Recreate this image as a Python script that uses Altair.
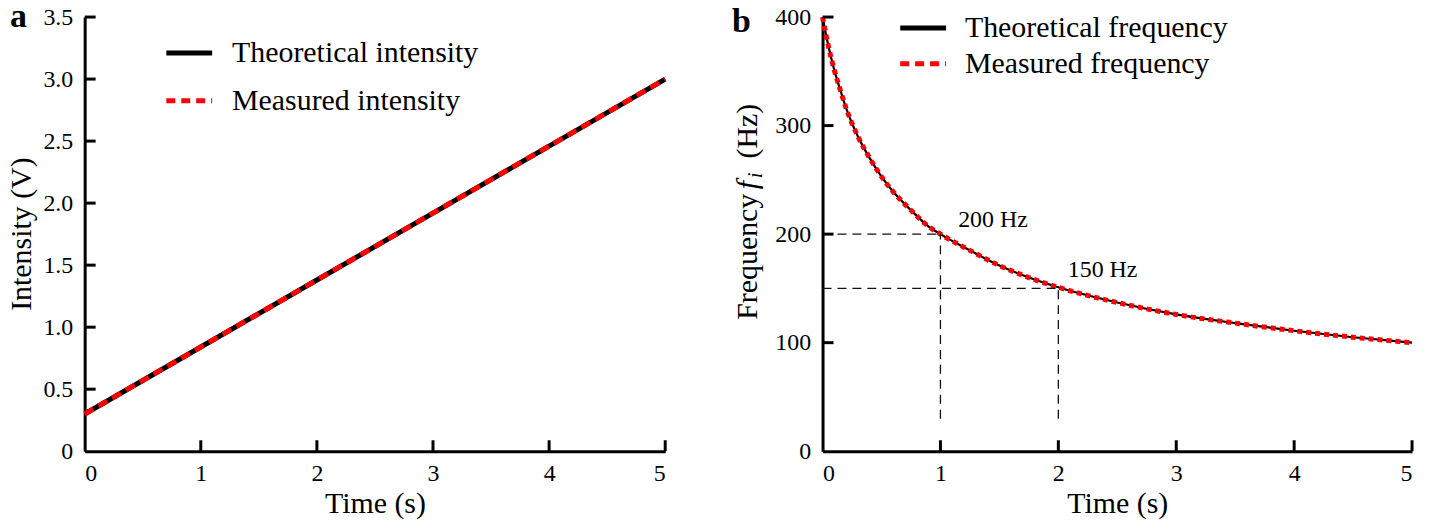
import altair as alt
import pandas as pd

# ---------------- data ----------------
time_a = [0, 1, 2, 3, 4, 5]
intensity_theory = [0.30, 0.84, 1.38, 1.92, 2.46, 3.00]
intensity_measured = [0.30, 0.84, 1.38, 1.92, 2.46, 3.00]

time_b = [0, 0.05, 0.1, 0.15, 0.2, 0.3, 0.4, 0.5, 0.6, 0.75, 0.9, 1.0,
          1.25, 1.5, 1.75, 2.0, 2.5, 3.0, 3.5, 4.0, 4.5, 5.0]
freq_theory = [400, 373, 351, 333, 316, 290, 270, 253, 239, 222, 207, 200,
               185, 171, 160, 151, 137, 126, 118, 111, 105, 100]
freq_measured = [400, 373, 351, 333, 316, 290, 270, 253, 239, 222, 207, 200,
                 185, 171, 160, 151, 137, 126, 118, 111, 105, 100]

x_ticks = [1, 2, 3, 4, 5]
y_ticks_a = [0.5, 1.0, 1.5, 2.0, 2.5, 3.0, 3.5]
y_ticks_b = [100, 200, 300, 400]

guide_marks_t = [1, 2]
guide_marks_f = [200, 150]
guide_labels = ["200 Hz", "150 Hz"]
guide_label_t = [1.15, 2.08]
guide_label_f = [213, 167]

legend_a = ["Theoretical intensity", "Measured intensity"]
legend_b = ["Theoretical frequency", "Measured frequency"]

FONT = "Liberation Serif"
WA, HA = 583, 436
WB, HB = 592, 436

one = pd.DataFrame({"k": [0]})


def label(txt, x, y, size=30, align="left", baseline="middle", **kw):
    return alt.Chart(one).mark_text(font=FONT, fontSize=size, align=align, baseline=baseline,
                                    color="black", **kw).encode(
        x=alt.value(x), y=alt.value(y), text=alt.value(txt))


def seg(x1, x2, y, color, dash=None, width=5, opacity=1):
    kw = {"strokeDash": dash} if dash else {}
    return alt.Chart(one).mark_rule(color=color, strokeWidth=width, opacity=opacity, **kw).encode(
        x=alt.value(x1), x2=alt.value(x2), y=alt.value(y))


# ---------------- panel a ----------------
da = pd.DataFrame({"t": time_a, "theo": intensity_theory, "meas": intensity_measured})
xa_scale = alt.Scale(domain=[0, 5], nice=False)
ya_scale = alt.Scale(domain=[0, 3.5], nice=False)

theo_a = alt.Chart(da).mark_line(color="black", strokeWidth=5).encode(
    x=alt.X("t:Q", scale=xa_scale,
            axis=alt.Axis(values=[0, 1, 2, 3, 4, 5], title="Time (s)", format="d")),
    y=alt.Y("theo:Q", scale=ya_scale,
            axis=alt.Axis(values=[0] + y_ticks_a, title=None,
                          labelExpr="datum.value == 0 ? '0' : format(datum.value, '.1f')")),
)
meas_a = alt.Chart(da).mark_line(color="#ff0000", strokeWidth=5, strokeDash=[10, 6]).encode(
    x=alt.X("t:Q", scale=xa_scale), y=alt.Y("meas:Q", scale=ya_scale))
xt_a = alt.Chart(pd.DataFrame({"t": x_ticks})).mark_rule(color="black", strokeWidth=3).encode(
    x=alt.X("t:Q", scale=xa_scale), y=alt.value(HA), y2=alt.value(HA - 11))
yt_a = alt.Chart(pd.DataFrame({"v": y_ticks_a})).mark_rule(color="black", strokeWidth=3).encode(
    y=alt.Y("v:Q", scale=ya_scale), x=alt.value(0), x2=alt.value(11))

title_a = alt.Chart(one).mark_text(font=FONT, fontSize=30, angle=270, align="center",
                                   baseline="alphabetic", color="black").encode(
    x=alt.value(-54), y=alt.value(HA / 2), text=alt.value("Intensity (V)"))

panel_a = alt.layer(
    theo_a, meas_a, xt_a, yt_a,
    seg(82, 128, 36, "black"),
    seg(82, 128, 84, "#ff0000", dash=[9, 6]),
    label(legend_a[0], 148, 36),
    label(legend_a[1], 148, 84),
    title_a,
    label("a", -75, 10, size=34, baseline="alphabetic", fontWeight="bold"),
    seg(-90, WA + 8, -24, "white", width=1, opacity=0),
).properties(width=WA, height=HA)

# ---------------- panel b ----------------
db = pd.DataFrame({"t": time_b, "theo": freq_theory, "meas": freq_measured})
xb_scale = alt.Scale(domain=[0, 5], nice=False)
yb_scale = alt.Scale(domain=[0, 400], nice=False)

theo_b = alt.Chart(db).mark_line(color="black", strokeWidth=2.2, interpolate="monotone").encode(
    x=alt.X("t:Q", scale=xb_scale,
            axis=alt.Axis(values=[0, 1, 2, 3, 4, 5], title="Time (s)", format="d")),
    y=alt.Y("theo:Q", scale=yb_scale,
            axis=alt.Axis(values=[0] + y_ticks_b, title=None, format="d")),
)
meas_b = alt.Chart(db).mark_line(color="#ff0000", strokeWidth=5, strokeDash=[5, 4],
                                 interpolate="monotone").encode(
    x=alt.X("t:Q", scale=xb_scale), y=alt.Y("meas:Q", scale=yb_scale))

gh = pd.DataFrame({"t0": [0, 0], "t1": guide_marks_t, "f": guide_marks_f})
guide_h = alt.Chart(gh).mark_rule(color="#111111", strokeWidth=1.3, strokeDash=[9, 6]).encode(
    x=alt.X("t0:Q", scale=xb_scale), x2="t1:Q", y=alt.Y("f:Q", scale=yb_scale))
gv = pd.DataFrame({"t": guide_marks_t, "f0": [30, 30], "f1": guide_marks_f})
guide_v = alt.Chart(gv).mark_rule(color="#111111", strokeWidth=1.3, strokeDash=[9, 6]).encode(
    x=alt.X("t:Q", scale=xb_scale), y=alt.Y("f0:Q", scale=yb_scale), y2="f1:Q")
gl = pd.DataFrame({"t": guide_label_t, "f": guide_label_f, "label": guide_labels})
guide_lbl = alt.Chart(gl).mark_text(font=FONT, fontSize=24, align="left", baseline="middle",
                                    color="black").encode(
    x=alt.X("t:Q", scale=xb_scale), y=alt.Y("f:Q", scale=yb_scale), text="label:N")

xt_b = alt.Chart(pd.DataFrame({"t": x_ticks})).mark_rule(color="black", strokeWidth=3).encode(
    x=alt.X("t:Q", scale=xb_scale), y=alt.value(HB), y2=alt.value(HB - 11))
yt_b = alt.Chart(pd.DataFrame({"v": y_ticks_b})).mark_rule(color="black", strokeWidth=3).encode(
    y=alt.Y("v:Q", scale=yb_scale), x=alt.value(0), x2=alt.value(11))

yt_pieces = []
for txt, ypos, style, size, dx in [("Frequency", 304, "normal", 30, 0),
                                   ("f", 173, "italic", 30, 0),
                                   ("i", 162, "italic", 21, 5),
                                   ("(Hz)", 142, "normal", 30, 0)]:
    yt_pieces.append(alt.Chart(one).mark_text(font=FONT, fontSize=size, fontStyle=style, angle=270,
                                              align="left", baseline="alphabetic",
                                              color="black").encode(
        x=alt.value(-66 + dx), y=alt.value(ypos), text=alt.value(txt)))

panel_b = alt.layer(
    theo_b, meas_b, guide_h, guide_v, guide_lbl, xt_b, yt_b,
    seg(78, 124, 11, "black"),
    seg(78, 124, 47, "#ff0000", dash=[9, 6]),
    label(legend_b[0], 143, 11),
    label(legend_b[1], 143, 47),
    *yt_pieces,
    label("b", -91, 15, size=34, baseline="alphabetic", fontWeight="bold"),
    seg(-95, WB + 6, -24, "white", width=1, opacity=0),
).properties(width=WB, height=HB)

chart = alt.hconcat(panel_a, panel_b, spacing=53).properties(
    padding={"left": -13, "top": -16, "right": 0, "bottom": 0}
).configure_view(stroke=None).configure_axis(
    grid=False, ticks=False, domainColor="black", domainWidth=3,
    labelFont=FONT, labelFontSize=24, labelColor="black", labelPadding=10,
    titleFont=FONT, titleFontSize=30, titleFontWeight="normal", titleColor="black",
).configure_axisY(labelPadding=12).configure_axisX(titlePadding=4)

chart.save("out.html", embed_options={"renderer": "svg", "actions": False})
